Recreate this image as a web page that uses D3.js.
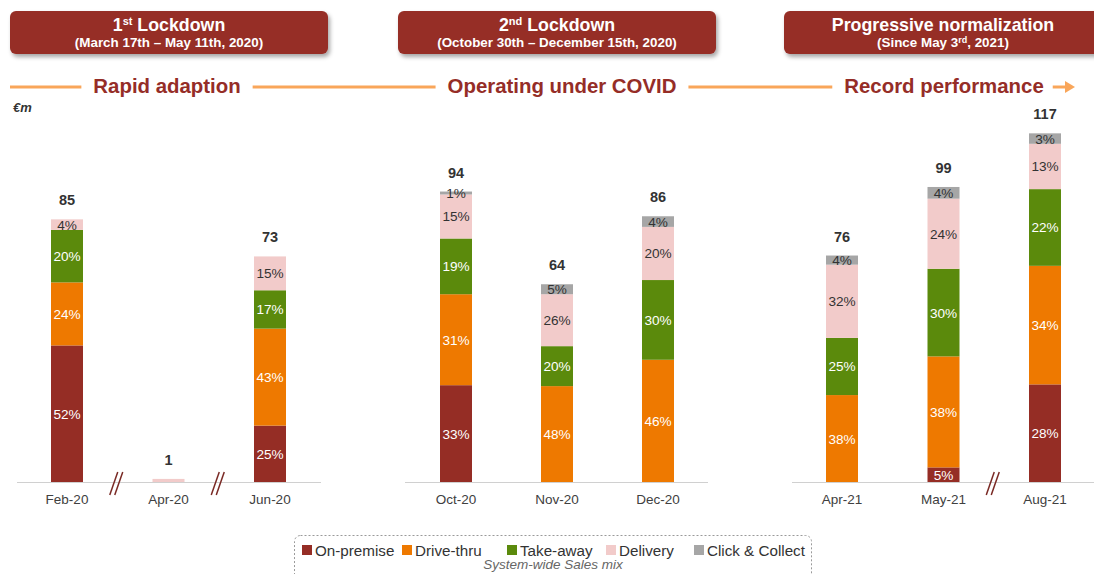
<!DOCTYPE html>
<html>
<head>
<meta charset="utf-8">
<script src="https://cdn.jsdelivr.net/npm/d3@7"></script>
<style>
  body { margin: 0; background: #fff; }
  svg { font-family: "Liberation Sans", Arial, sans-serif; display: block; }
</style>
</head>
<body>
<div id="chart"></div>
<script>
// data
const months = ["Feb-20", "Apr-20", "Jun-20", "Oct-20", "Nov-20", "Dec-20", "Apr-21", "May-21", "Aug-21"]
const panelOf = [0, 0, 0, 1, 1, 1, 2, 2, 2]
const totals = [85, 1, 73, 94, 64, 86, 76, 99, 117]
const onPremise = [52, 0, 25, 33, 0, 0, 0, 5, 28]
const driveThru = [24, 0, 43, 31, 48, 46, 38, 38, 34]
const takeAway = [20, 0, 17, 19, 20, 30, 25, 30, 22]
const delivery = [4, 100, 15, 15, 26, 20, 32, 24, 13]
const clickCollect = [0, 0, 0, 1, 5, 4, 4, 4, 3]
const seriesNames = ["On-premise", "Drive-thru", "Take-away", "Delivery", "Click & Collect"]
const breaks = [["Feb-20", "Apr-20"], ["Apr-20", "Jun-20"], ["May-21", "Aug-21"]]

const headerTitles = [["1", "st", " Lockdown"], ["2", "nd", " Lockdown"], ["Progressive normalization", "", ""]]
const headerSubs = [["(March 17th – May 11th, 2020)", "", ""], ["(October 30th – December 15th, 2020)", "", ""], ["(Since May 3", "rd", ", 2021)"]]
const phaseLabels = ["Rapid adaption", "Operating under COVID", "Record performance"]

const colors = ["#952D25", "#EE7900", "#5B8A0C", "#F2CBCA", "#A6A6A6"]
const textColors = ["#fff", "#fff", "#fff", "#333", "#333"]
const maroon = "#952D27"
const lineOrange = "#F9A65A"

const width = 1094, height = 574
const baseY = 482

let svg = d3.select("#chart").append("svg")
    .attr("width", width)
    .attr("height", height)

// drop shadow for the header boxes
let defs = svg.append("defs")
let shadow = defs.append("filter").attr("id", "shadow")
    .attr("x", "-5%").attr("y", "-20%").attr("width", "115%").attr("height", "160%")
shadow.append("feDropShadow")
    .attr("dx", 2).attr("dy", 3).attr("stdDeviation", 2)
    .attr("flood-color", "#000").attr("flood-opacity", 0.35)

// panels: x ranges of the bar centres and axis line, y range per slide scale
let panels = [
    {cats: months.slice(0, 3), xr: [67, 270], axis: [17, 321], pxPerUnit: 3.09, box: 10, phase: 167},
    {cats: months.slice(3, 6), xr: [456, 658], axis: [405, 708], pxPerUnit: 3.09, box: 398, phase: 562},
    {cats: months.slice(6, 9), xr: [842, 1045], axis: [792, 1094], pxPerUnit: 2.98, box: 784, phase: 944}
]
panels.forEach(p => {
    p.x = d3.scalePoint().domain(p.cats).range(p.xr)
    p.y = d3.scaleLinear().domain([0, 100]).range([baseY, baseY - 100 * p.pxPerUnit])
})

// header boxes
panels.forEach((p, i) => {
    let g = svg.append("g")
    g.append("rect")
        .attr("x", p.box).attr("y", 11)
        .attr("width", 318).attr("height", 43)
        .attr("rx", 6)
        .attr("fill", "#962D26")
        .attr("filter", "url(#shadow)")
    let cx = p.box + 159
    let t = g.append("text")
        .attr("x", cx).attr("y", 31)
        .attr("text-anchor", "middle")
        .attr("fill", "#fff")
        .attr("font-weight", "bold")
        .attr("font-size", 17.8)
    t.append("tspan").text(headerTitles[i][0])
    if (headerTitles[i][1]) t.append("tspan").text(headerTitles[i][1]).attr("font-size", 11).attr("dy", -6)
    if (headerTitles[i][2]) t.append("tspan").text(headerTitles[i][2]).attr("dy", headerTitles[i][1] ? 6 : 0)
    let s = g.append("text")
        .attr("x", cx).attr("y", 47)
        .attr("text-anchor", "middle")
        .attr("fill", "#fff")
        .attr("font-weight", "bold")
        .attr("font-size", 13.4)
    s.append("tspan").text(headerSubs[i][0])
    if (headerSubs[i][1]) s.append("tspan").text(headerSubs[i][1]).attr("font-size", 9).attr("dy", -4)
    if (headerSubs[i][2]) s.append("tspan").text(headerSubs[i][2]).attr("dy", 4)
})

// phase row with orange connecting lines
let phaseG = svg.append("g")
let phaseTexts = phaseG.selectAll("text").data(phaseLabels).enter().append("text")
    .attr("x", (d, i) => panels[i].phase)
    .attr("y", 93)
    .attr("text-anchor", "middle")
    .attr("fill", maroon)
    .attr("font-weight", "bold")
    .attr("font-size", 20.4)
    .text(d => d)
let boxes = []
phaseTexts.each(function () { boxes.push(this.getBBox()) })
let segs = [[10, boxes[0].x - 12]]
for (let i = 1; i < boxes.length; i++) segs.push([boxes[i - 1].x + boxes[i - 1].width + 12, boxes[i].x - 12])
segs.push([boxes[2].x + boxes[2].width + 9, 1068])
phaseG.selectAll("line").data(segs).enter().append("line")
    .attr("x1", d => d[0]).attr("x2", d => d[1])
    .attr("y1", 87).attr("y2", 87)
    .attr("stroke", lineOrange)
    .attr("stroke-width", 3)
let arrowEnd = segs[segs.length - 1][1]
phaseG.append("path")
    .attr("d", `M${arrowEnd - 3},81 L${arrowEnd + 7},87 L${arrowEnd - 3},93 Z`)
    .attr("fill", lineOrange)

svg.append("text")
    .attr("x", 13).attr("y", 112)
    .attr("font-weight", "bold").attr("font-style", "italic")
    .attr("font-size", 13).attr("fill", "#333")
    .text("€m")

// axis baselines
svg.selectAll(".axis-line").data(panels).enter().append("line")
    .attr("class", "axis-line")
    .attr("x1", d => d.axis[0]).attr("x2", d => d.axis[1])
    .attr("y1", baseY + 0.5).attr("y2", baseY + 0.5)
    .attr("stroke", "#d0d0d0")

// stacked bars
let mixes = [onPremise, driveThru, takeAway, delivery, clickCollect]
let barW = 32
months.forEach((m, i) => {
    let p = panels[panelOf[i]]
    let cx = p.x(m)
    let pcts = mixes.map(s => s[i])
    let sum = d3.sum(pcts)
    let acc = 0
    let stack = pcts.map((v, k) => {
        let y0 = acc
        acc += totals[i] * v / sum
        return {k: k, v: v, y0: y0, y1: acc}
    }).filter(d => d.v > 0)
    let g = svg.append("g")
    g.selectAll("rect").data(stack).enter().append("rect")
        .attr("x", cx - barW / 2)
        .attr("width", barW)
        .attr("y", d => p.y(d.y1))
        .attr("height", d => p.y(d.y0) - p.y(d.y1))
        .attr("fill", d => colors[d.k])
    if (totals[i] > 5) {
        g.selectAll(".pct").data(stack).enter().append("text")
            .attr("class", "pct")
            .attr("x", cx)
            .attr("y", d => (p.y(d.y0) + p.y(d.y1)) / 2 + 5)
            .attr("text-anchor", "middle")
            .attr("font-size", 13.6)
            .attr("fill", d => textColors[d.k])
            .text(d => d.v + "%")
    }
    g.append("text")
        .attr("x", cx).attr("y", p.y(totals[i]) - 14)
        .attr("text-anchor", "middle")
        .attr("font-weight", "bold")
        .attr("font-size", 14.5)
        .attr("fill", "#333")
        .text(totals[i])
    g.append("text")
        .attr("x", cx).attr("y", baseY + 22)
        .attr("text-anchor", "middle")
        .attr("font-size", 13.5)
        .attr("fill", "#404040")
        .text(m)
})

// axis break marks
breaks.forEach(b => {
    let p = panels[panelOf[months.indexOf(b[0])]]
    let mx = (p.x(b[0]) + p.x(b[1])) / 2
    ;[0, 5].forEach(off => {
        svg.append("line")
            .attr("x1", mx - 8 + off).attr("y1", 495)
            .attr("x2", mx + off).attr("y2", 472)
            .attr("stroke", "#7A2A25")
            .attr("stroke-width", 1.5)
    })
})

// legend
let legend = svg.append("g")
legend.append("rect")
    .attr("x", 294.5).attr("y", 535.5)
    .attr("width", 517).attr("height", 50)
    .attr("rx", 6)
    .attr("fill", "none")
    .attr("stroke", "#9a9a9a")
    .attr("stroke-dasharray", "2,2")
let legendX = [302, 402, 507, 606, 694]
let items = legend.selectAll(".item").data(seriesNames).enter().append("g")
    .attr("class", "item")
    .attr("transform", (d, i) => `translate(${legendX[i]},0)`)
items.append("rect")
    .attr("x", 0).attr("y", 545)
    .attr("width", 10).attr("height", 10)
    .attr("fill", (d, i) => colors[i])
items.append("text")
    .attr("x", 13).attr("y", 556)
    .attr("font-size", 15.2)
    .attr("fill", "#333")
    .text(d => d)
legend.append("text")
    .attr("x", 553).attr("y", 569)
    .attr("text-anchor", "middle")
    .attr("font-style", "italic")
    .attr("font-size", 13.5)
    .attr("fill", "#666")
    .text("System-wide Sales mix")
</script>
</body>
</html>
